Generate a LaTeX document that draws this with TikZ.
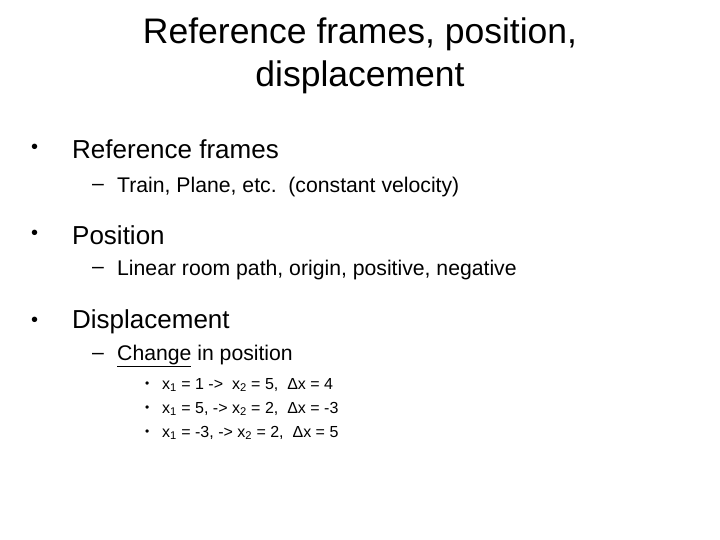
\documentclass[tikz,border=0pt]{standalone}
\usepackage{fontspec}
\setmainfont{Liberation Sans}
\begin{document}
\begin{tikzpicture}[x=1pt,y=-1pt,
  t/.style={anchor=west,inner sep=0pt},
  l1/.style={t,font=\fontsize{26}{30}\selectfont},
  l2/.style={t,font=\fontsize{21.2}{25}\selectfont},
  l3/.style={t,font=\fontsize{16}{19}\selectfont},
  bu/.style={t,font=\fontsize{20}{24}\selectfont},
  bs/.style={t,font=\fontsize{12}{14}\selectfont}]
\useasboundingbox (0,0) rectangle (720,540);
\node[font=\fontsize{35.5}{43}\selectfont,align=center] (title) at (360,56) {Reference frames, position,\\displacement};
\node[bu] (b1) at (31,149) {•};
\node[l1] (t1) at (72,149) {Reference frames};
\node[l2] (d1) at (92,187) {–};
\node[l2] (s1) at (117,187) {Train, Plane, etc.\ \ (constant velocity)};
\node[bu] (b2) at (31,235) {•};
\node[l1] (t2) at (72,235) {Position};
\node[l2] (d2) at (92,270) {–};
\node[l2] (s2) at (117,270) {Linear room path, origin, positive, negative};
\node[bu] (b3) at (31,322) {•};
\node[l1] (t3) at (72,322) {Displacement};
\node[l2] (d3) at (92,356) {–};
\node[l2] (s3) at (117,356) {\underline{Change} in position};
\node[bs] (e1) at (145,385) {•};
\node[l3] (f1) at (162,385) {x\textsubscript{1} = 1 -> \ x\textsubscript{2} = 5, \ Δx = 4};
\node[bs] (e2) at (145,409) {•};
\node[l3] (f2) at (162,409) {x\textsubscript{1} = 5, -> x\textsubscript{2} = 2, \ Δx = -3};
\node[bs] (e3) at (145,433) {•};
\node[l3] (f3) at (162,433) {x\textsubscript{1} = -3, -> x\textsubscript{2} = 2, \ Δx = 5};
\end{tikzpicture}
\end{document}
